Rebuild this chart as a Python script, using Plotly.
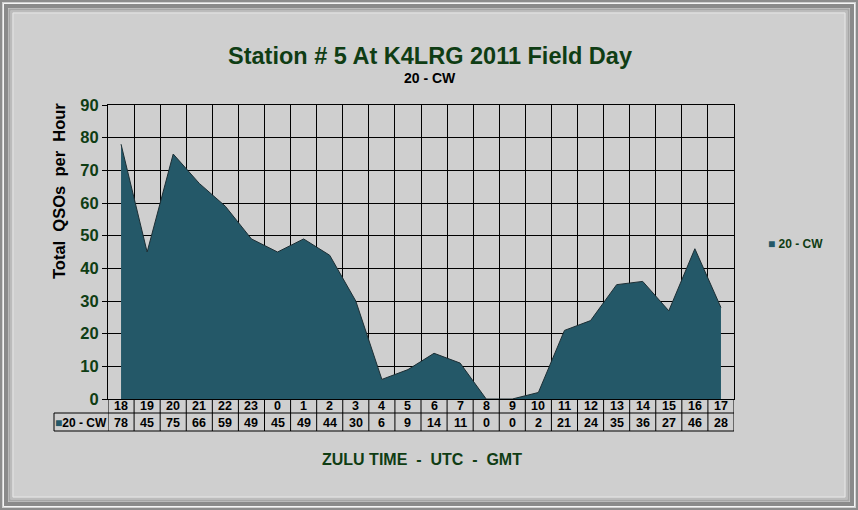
import plotly.graph_objects as go

# ---- data ----
hours = ["18", "19", "20", "21", "22", "23", "0", "1", "2", "3", "4", "5",
         "6", "7", "8", "9", "10", "11", "12", "13", "14", "15", "16", "17"]
qsos = [78, 45, 75, 66, 59, 49, 45, 49, 44, 30, 6, 9,
        14, 11, 0, 0, 2, 21, 24, 35, 36, 27, 46, 28]
series_name = "20 - CW"
y_ticks = [0, 10, 20, 30, 40, 50, 60, 70, 80, 90]

title_text = "Station # 5 At K4LRG 2011 Field Day"
subtitle_text = "20 - CW"
x_title = "ZULU\u00a0TIME\u00a0\u00a0-\u00a0\u00a0UTC\u00a0\u00a0-\u00a0\u00a0GMT"
y_title = "Total\u00a0\u00a0QSOs\u00a0\u00a0per\u00a0\u00a0Hour"

# ---- geometry / styles ----
W, H = 858, 510
L, R, T, B = 108, 124, 105, 111
PW = W - L - R
PH = H - T - B
FONT = "Arial, 'Liberation Sans', sans-serif"
GREEN = "#0f3d14"
FILL = "#245868"
BG = "#cfcfcf"


def px(x):
    return (x - L) / PW


def py(y):
    return (H - B - y) / PH


def ann(text, x, y, size, color, xref="paper", xanchor="center", **kw):
    d = dict(text=text, x=x, y=y, xref=xref, yref="paper", showarrow=False,
             xanchor=xanchor, yanchor="middle",
             font=dict(family=FONT, size=size, color=color, weight="bold"))
    d.update(kw)
    return d


idx = list(range(len(hours)))

fig = go.Figure()
fig.add_trace(go.Scatter(
    x=idx, y=qsos, name=series_name, mode="lines",
    fill="tozeroy", fillcolor=FILL,
    line=dict(color="#1c2e34", width=1),
    showlegend=False, hoverinfo="x+y",
))

annotations = []
shapes = []

# title & subtitle
annotations.append(ann(title_text, px(430), py(56), 23.5, GREEN))
annotations.append(ann(subtitle_text, px(430), py(78), 14, "black"))
# axis titles
annotations.append(ann(y_title, px(59), py(191), 16.5, "black", textangle=-90))
annotations.append(ann(x_title, px(422), py(460), 16, GREEN))
# legend
annotations.append(ann("<span style='color:%s'>\u25a0</span> %s" % (FILL, series_name),
                       px(766), py(244), 12, GREEN, xanchor="left"))

# data table texts
for i, (h, v) in enumerate(zip(hours, qsos)):
    annotations.append(ann(h, i, py(406), 12.5, "black", xref="x"))
    annotations.append(ann(str(v), i, py(423), 12.5, "black", xref="x"))
annotations.append(ann("<span style='color:%s'>\u25a0</span>%s" % (FILL, series_name),
                       px(81), py(423), 12, "black"))

# table lines
tl = dict(color="black", width=1)
for k in range(len(hours) + 1):
    shapes.append(dict(type="line", xref="x", yref="paper", x0=k - 0.5, x1=k - 0.5,
                       y0=py(399), y1=py(431), line=tl))
shapes.append(dict(type="line", xref="paper", yref="paper", x0=px(54), x1=px(L + PW),
                   y0=py(413), y1=py(413), line=tl))
shapes.append(dict(type="line", xref="paper", yref="paper", x0=px(54), x1=px(L + PW),
                   y0=py(431), y1=py(431), line=tl))
shapes.append(dict(type="line", xref="paper", yref="paper", x0=px(54), x1=px(54),
                   y0=py(413), y1=py(431), line=tl))

# outer frame
frame = [(1, "#8c8c8c", 2), (3.5, "#f4f4f4", 1), (6, "#8a8a8a", 4),
         (9.5, "#a6a6a6", 2), (11.5, "#bcbcbc", 2), (13, "#e6e6e6", 1)]
for inset, col, wd in frame:
    shapes.append(dict(type="rect", xref="paper", yref="paper",
                       x0=px(inset), x1=px(W - inset), y0=py(H - inset), y1=py(inset),
                       line=dict(color=col, width=wd), layer="above"))

fig.update_layout(
    width=W, height=H,
    margin=dict(l=L, r=R, t=T, b=B, autoexpand=False),
    paper_bgcolor=BG, plot_bgcolor=BG,
    showlegend=False,
    annotations=annotations, shapes=shapes,
    xaxis=dict(range=[-0.5, len(hours) - 0.5], tick0=-0.5, dtick=1, tickmode="linear",
               showticklabels=False, showgrid=True, gridcolor="black", gridwidth=1,
               showline=True, linecolor="black", linewidth=1, mirror=True,
               zeroline=False, ticks=""),
    yaxis=dict(range=[0, 90], tickvals=y_ticks, showgrid=True, gridcolor="black", gridwidth=1,
               showline=True, linecolor="black", linewidth=1, mirror=True,
               zeroline=False, ticks="outside", ticklen=5, tickcolor="black",
               tickfont=dict(family=FONT, size=16.5, color=GREEN, weight="bold")),
)

fig.write_html("out.html", config={"displayModeBar": False},
               post_script="document.body.style.margin='0';document.body.style.overflow='hidden';")
